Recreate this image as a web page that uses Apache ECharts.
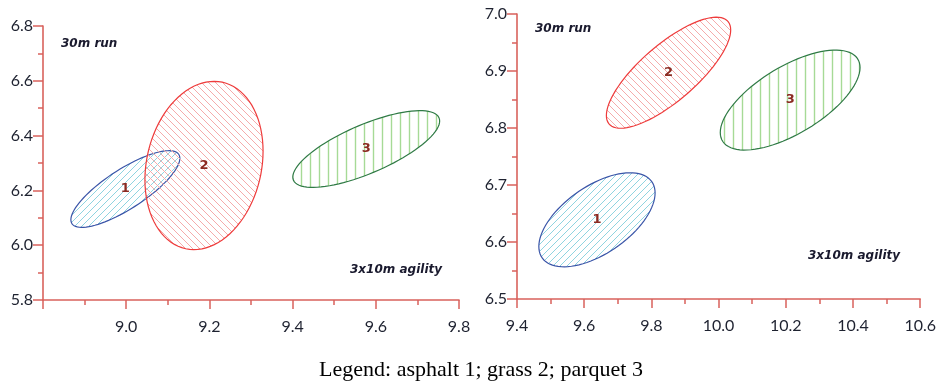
<!DOCTYPE html>
<html>
<head>
<meta charset="utf-8">
<script src="https://cdn.jsdelivr.net/npm/echarts@6/dist/echarts.min.js"></script>
<style>
  html, body { margin: 0; padding: 0; background: #fff; }
  #chart { width: 939px; height: 382px; }
</style>
</head>
<body>
<div id="chart"></div>
<script>
// group labels (1 asphalt, 2 grass, 3 parquet)
const groupLabels = ['1', '2', '3'];

// left panel: ellipse centres, half-extents and correlation
const leftMeanX = [8.998, 9.187, 9.577];
const leftMeanY = [6.205, 6.291, 6.351];
const leftSdX = [0.131, 0.142, 0.1765];
const leftSdY = [0.140, 0.307, 0.140];
const leftCorr = [0.80, 0.17, 0.73];

// right panel
const rightMeanX = [9.638, 9.851, 10.213];
const rightMeanY = [6.639, 6.897, 6.849];
const rightSdX = [0.173, 0.185, 0.208];
const rightSdY = [0.0825, 0.0974, 0.0877];
const rightCorr = [0.57, 0.77, 0.65];

// axis ranges / tick steps
const leftXRange = [8.8, 9.8, 0.2];
const leftYRange = [5.8, 6.8, 0.2];
const rightXRange = [9.4, 10.6, 0.2];
const rightYRange = [6.5, 7.0, 0.1];

const axisColor = '#d9625c';
const edgeColors = ['#3a55a8', '#ee3b3b', '#2f7a45'];

function hatch(kind, color) {
    const c = document.createElement('canvas');
    const s = kind === 'v' ? 9 : 7;
    c.width = s; c.height = s;
    const g = c.getContext('2d');
    g.strokeStyle = color;
    g.lineWidth = kind === 'v' ? 1.4 : 1;
    g.beginPath();
    if (kind === 'v') {
        g.moveTo(s / 2, 0); g.lineTo(s / 2, s);
    } else if (kind === '/') {
        g.moveTo(-1, s + 1); g.lineTo(s + 1, -1);
        g.moveTo(-1, 1); g.lineTo(1, -1);
        g.moveTo(s - 1, s + 1); g.lineTo(s + 1, s - 1);
    } else {
        g.moveTo(-1, -1); g.lineTo(s + 1, s + 1);
        g.moveTo(s - 1, -1); g.lineTo(s + 1, 1);
        g.moveTo(-1, s - 1); g.lineTo(1, s + 1);
    }
    g.stroke();
    return { image: c, repeat: 'repeat' };
}

const fills = [hatch('/', '#8fd4e0'), hatch('\\', '#f5abab'), hatch('v', '#a6da96')];

function rows(mx, my, sx, sy, r) {
    return mx.map((v, i) => [v, my[i], sx[i], sy[i], r[i], i]);
}

function renderEllipse(params, api) {
    const cx = api.value(0), cy = api.value(1);
    const sx = api.value(2), sy = api.value(3), r = api.value(4);
    const i = api.value(5);
    const pts = [];
    const k = Math.sqrt(1 - r * r);
    for (let j = 0; j < 90; j++) {
        const t = j / 90 * Math.PI * 2;
        pts.push(api.coord([cx + sx * Math.cos(t), cy + sy * (r * Math.cos(t) + k * Math.sin(t))]));
    }
    const c = api.coord([cx, cy]);
    return {
        type: 'group',
        children: [
            {
                type: 'polygon',
                shape: { points: pts },
                style: { fill: fills[i], stroke: edgeColors[i], lineWidth: 1.2 }
            },
            {
                type: 'text',
                x: c[0], y: c[1],
                style: {
                    text: groupLabels[i], fill: '#8b2b22',
                    font: 'bold 13px "DejaVu Sans"',
                    align: 'center', verticalAlign: 'middle'
                },
                z2: 10
            }
        ]
    };
}

const labelStyle = { color: '#1e2230', fontFamily: 'Lato', fontSize: 16 };

function xAxis(idx, range, showMin) {
    return {
        type: 'value', gridIndex: idx,
        min: range[0], max: range[1], interval: range[2],
        axisLine: { show: true, onZero: false, lineStyle: { color: axisColor, width: 1.6 } },
        axisTick: { show: true, length: 9, lineStyle: { color: axisColor, width: 1.5 } },
        minorTick: { show: true, splitNumber: 2, length: 5, lineStyle: { color: axisColor, width: 1.5 } },
        splitLine: { show: false },
        axisLabel: Object.assign({ margin: 19, showMinLabel: showMin, formatter: v => v.toFixed(1) }, labelStyle)
    };
}

function yAxis(idx, range) {
    return {
        type: 'value', gridIndex: idx,
        min: range[0], max: range[1], interval: range[2],
        axisLine: { show: true, onZero: false, lineStyle: { color: axisColor, width: 1.6 } },
        axisTick: { show: true, length: 10, lineStyle: { color: axisColor, width: 1.5 } },
        minorTick: { show: true, splitNumber: 2, length: 5, lineStyle: { color: axisColor, width: 1.5 } },
        splitLine: { show: false },
        axisLabel: Object.assign({ margin: 10, formatter: v => v.toFixed(1) }, labelStyle)
    };
}

const noteFont = 'italic bold 12px "DejaVu Sans"';
function note(text, x, y) {
    return { type: 'text', x: x, y: y, style: { text: text, font: noteFont, fill: '#1a1a2e', verticalAlign: 'middle' } };
}

const chart = echarts.init(document.getElementById('chart'), null, { renderer: 'canvas' });
chart.setOption({
    animation: false,
    grid: [
        { left: 43, top: 26, width: 416, height: 274 },
        { left: 517, top: 14, width: 407, height: 285 }
    ],
    xAxis: [xAxis(0, leftXRange, false), xAxis(1, rightXRange, true)],
    yAxis: [yAxis(0, leftYRange), yAxis(1, rightYRange)],
    series: [
        {
            type: 'custom', xAxisIndex: 0, yAxisIndex: 0,
            renderItem: renderEllipse,
            data: rows(leftMeanX, leftMeanY, leftSdX, leftSdY, leftCorr)
        },
        {
            type: 'custom', xAxisIndex: 1, yAxisIndex: 1,
            renderItem: renderEllipse,
            data: rows(rightMeanX, rightMeanY, rightSdX, rightSdY, rightCorr)
        }
    ],
    graphic: [
        note('30m run', 61, 44),
        note('3x10m agility', 350, 270),
        note('30m run', 535, 29),
        note('3x10m agility', 808, 256),
        {
            type: 'text', x: 481, y: 370,
            style: {
                text: 'Legend: asphalt 1; grass 2; parquet 3',
                font: '22px "Liberation Serif"', fill: '#000',
                align: 'center', verticalAlign: 'middle'
            }
        }
    ]
});
</script>
</body>
</html>
